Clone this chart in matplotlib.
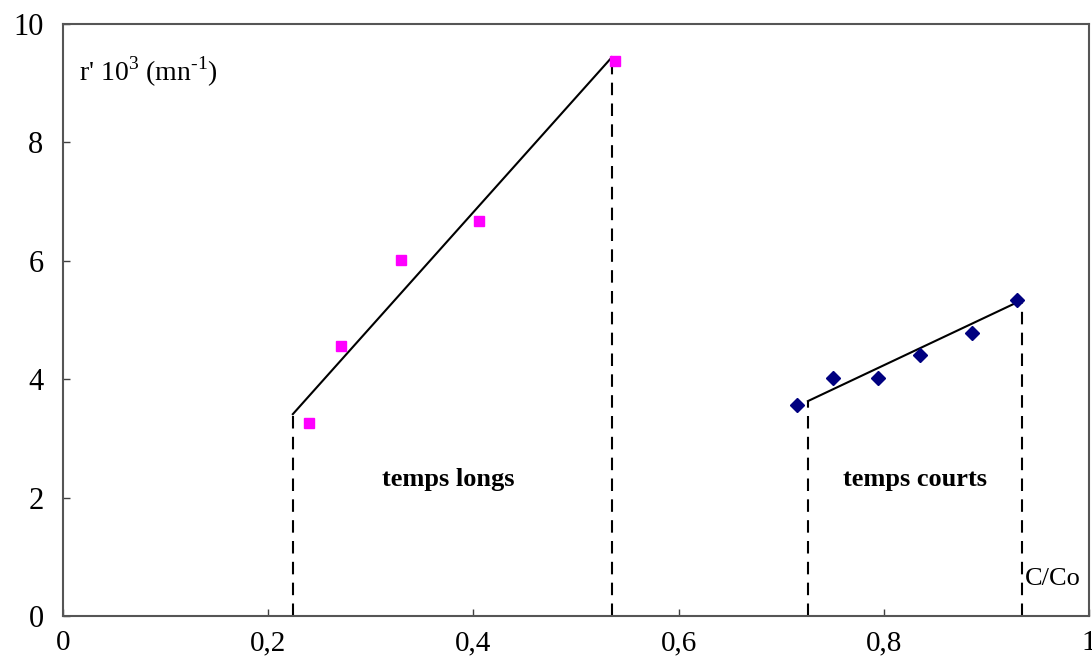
import matplotlib
matplotlib.use("Agg")
import matplotlib.pyplot as plt

plt.rcParams['font.family'] = ['Liberation Serif', 'DejaVu Serif']
plt.rcParams['mathtext.fontset'] = 'custom'
plt.rcParams['mathtext.rm'] = 'Liberation Serif'

# temps longs (squares)
long_x = [0.240, 0.271, 0.329, 0.405, 0.538]
long_y = [3.26, 4.56, 6.01, 6.67, 9.37]
long_fit_x = [0.224, 0.535]
long_fit_y = [3.41, 9.44]

# temps courts (diamonds)
short_x = [0.715, 0.750, 0.794, 0.835, 0.886, 0.930]
short_y = [3.56, 4.02, 4.02, 4.41, 4.78, 5.34]
short_fit_x = [0.726, 0.935]
short_fit_y = [3.63, 5.34]

xticks = [0, 0.2, 0.4, 0.6, 0.8, 1]
xtick_labels = ["0", "0,2", "0,4", "0,6", "0,8", "1"]
yticks = [0, 2, 4, 6, 8, 10]

fig = plt.figure(figsize=(10.92, 6.63), dpi=100)
ax = fig.add_axes([0.0577, 0.0709, 0.9396, 0.8929])

ax.plot(long_x, long_y, 's', color='#FF00FF', markersize=7.5, zorder=3)
ax.plot(short_x, short_y, 'D', color='#000080', markersize=7.5, zorder=3)

for fx, fy in [(long_fit_x, long_fit_y), (short_fit_x, short_fit_y)]:
    ax.plot(fx, fy, '-', color='black', lw=1.5)
    # dashed drop lines down to the x axis
    for xv, yv in zip(fx, fy):
        ax.plot([xv, xv], [0, yv], color='black', lw=1.5, dashes=(6, 4))

ax.set_xlim(0, 1)
ax.set_ylim(0, 10)
ax.set_xticks(xticks)
ax.set_xticklabels(xtick_labels)
ax.set_yticks(yticks)
ax.tick_params(axis='both', direction='in', length=5, width=1,
               color='#404040')
ax.tick_params(axis='x', pad=10, labelsize=21)
ax.tick_params(axis='y', pad=14, labelsize=22)

for s in ax.spines.values():
    s.set_color('#555555')
    s.set_linewidth(1.5)

ax.text(0.016, 0.92, r"r' 10$^{3}$ (mn$^{\text{-1}}$)", transform=ax.transAxes,
        fontsize=20, va='center', ha='left')
ax.text(0.375, 2.3, "temps longs", fontsize=19, fontweight='bold', ha='center', va='center')
ax.text(0.83, 2.3, "temps courts", fontsize=19, fontweight='bold', ha='center', va='center')
ax.text(0.937, 0.63, "C/Co", fontsize=19, ha='left', va='center')

fig.savefig("out.png", dpi=100)
